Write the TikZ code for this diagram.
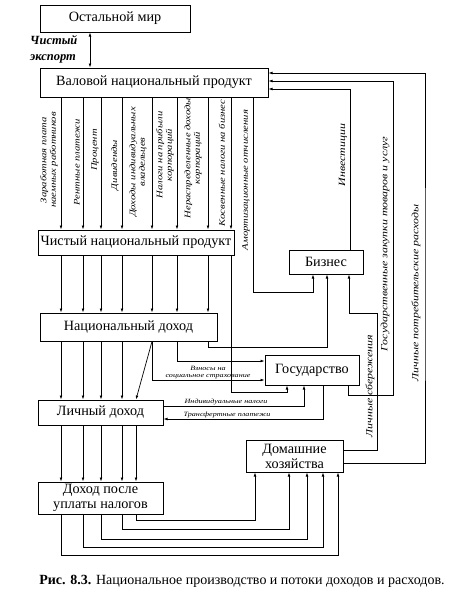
\documentclass[tikz,border=0pt]{standalone}
\usepackage{fontspec}
\setmainfont{Liberation Serif}
\newfontfamily\labfont[FakeStretch=1.25]{Liberation Serif}
\usetikzlibrary{arrows.meta, positioning, calc}
\tikzset{
  box/.style={draw, line width=1pt, inner sep=0pt, align=center, font=\fontsize{14.2}{15}\selectfont},
  flow/.style={line width=0.7pt, -{Latex[length=4pt,width=2.8pt]}},
  twoway/.style={line width=0.7pt, {Latex[length=4pt,width=2.8pt]}-{Latex[length=4pt,width=2.8pt]}},
  vlab/.style={rotate=90, inner sep=0pt, align=center, font=\labfont\itshape\fontsize{8.5}{9.5}\selectfont},
  vlabr/.style={rotate=90, inner sep=0pt, align=center, font=\labfont\itshape\fontsize{9.5}{10}\selectfont},
  hlab/.style={inner sep=0.5pt, align=center, font=\labfont\itshape\fontsize{6.5}{7.5}\selectfont}
}

\begin{document}
\begin{tikzpicture}[x=1pt, y=-1pt]
\useasboundingbox (0,0) rectangle (451,600);

\node[box, minimum width=150pt, minimum height=27pt] (world) at (115,18.5) {Остальной мир};
\node[box, minimum width=228pt, minimum height=29pt] (gnp) at (154,82.5) {Валовой национальный продукт};
\node[box, minimum width=196pt, minimum height=25pt] (nnp) at (136,242.5) {Чистый национальный продукт};
\node[box, minimum width=177pt, minimum height=28pt] (ni) at (128.5,327) {Национальный доход};
\node[box, minimum width=125pt, minimum height=25pt] (pi) at (100.5,412.5) {Личный доход};
\node[box, minimum width=125pt, minimum height=32pt] (dpi) at (100.5,498) {Доход после\\уплаты налогов};
\node[box, minimum width=74pt, minimum height=24pt] (biz) at (326,262) {Бизнес};
\node[box, minimum width=94pt, minimum height=30pt] (gov) at (312,370) {Государство};
\node[box, minimum width=97pt, minimum height=32pt] (hh) at (294.5,456) {Домашние\\хозяйства};

\foreach \n/\x in {0/90, 1/61, 2/83, 3/101, 4/122, 5/152, 6/177, 7/208, 8/231, 9/253, 10/136}
  \coordinate (k\n) at (\x,0);

\draw[twoway] (world.south -| k0) -- (gnp.north -| k0);
\node[anchor=west, align=left, inner sep=0pt, font=\bfseries\itshape\fontsize{12.5}{16}\selectfont] (export) at (30,49) {Чистый\\экспорт};

\foreach \n in {1,...,8}
  \draw[flow] (gnp.south -| k\n) -- (nnp.north -| k\n);
\foreach \n in {1,...,7}
  \draw[flow] (nnp.south -| k\n) -- (ni.north -| k\n);
\foreach \n in {1,...,4}
  \draw[flow] (ni.south -| k\n) -- (pi.north -| k\n);
\draw[flow] (ni.south -| k5) -- (pi.north -| k10);
\foreach \n in {1,2,3,4,10}
  \draw[flow] (pi.south -| k\n) -- (dpi.north -| k\n);

\node[vlab] (wages) at (49,160) {Заработная плата\\наемных работников};
\node[vlab] (rent) at (77,162) {Рентные платежи};
\node[vlab] (interest) at (95,150) {Процент};
\node[vlab] (dividends) at (115,165) {Дивиденды};
\node[vlab] (proprietors) at (138,162) {Доходы индивидуальных\\владельцев};
\node[vlab] (corptax) at (165,155) {Налоги на прибыли\\корпораций};
\node[vlab] (retained) at (193,158) {Нераспределенные доходы\\корпораций};
\node[vlab] (indirect) at (222,163) {Косвенные налоги на бизнес};
\node[vlab] (deprec) at (246,180) {Амортизационные отчисления};

\draw[flow] (gnp.south -| k9) |- ([xshift=-13pt, yshift=-18pt]biz.south) -- ([xshift=-13pt]biz.south);
\draw[flow] (nnp.south -| k8) |- ([xshift=-25pt, yshift=-7pt]gov.south) -- ([xshift=-25pt]gov.south);
\draw[flow] (ni.south -| k7) |- ([xshift=1pt, yshift=-73pt]biz.south) -- ([xshift=1pt]biz.south);
\draw[flow] (ni.south -| k6) |- ([yshift=9pt]gov.west);
\draw[flow] (ni.south -| k5) |- ([yshift=-10pt]gov.west);
\node[hlab, anchor=south] (social) at (208,380) {Взносы на\\социальное страхование};

\draw[flow] ([yshift=6.5pt]pi.east) -| ([xshift=-8pt]gov.south);
\draw[flow] ([xshift=11pt]gov.south) |- ([yshift=-6.5pt]pi.east);
\node[hlab, anchor=south] (perstax) at (226,405.5) {Индивидуальные налоги};
\node[hlab, anchor=south] (transfer) at (227,418.5) {Трансфертные платежи};

\foreach \n/\d/\s in {10/6/-39.5, 4/15/-5.5, 3/25/12.5, 2/33/28.5, 1/41/43.5}
  \draw[flow] (dpi.south -| k\n) -- ++(0,\d) -| ([xshift=\s pt]hh.south);

\draw[flow] ([yshift=6pt]hh.east) -| (377,313) -| ([xshift=23pt]biz.south);
\draw[flow] ([yshift=-7pt]hh.east) -| (425,300) |- ([yshift=9.5pt]gnp.east);
\draw[flow] ([xshift=36pt]gov.south) |- (393,395) |- ([yshift=1.5pt]gnp.east);
\draw[flow] ([xshift=24pt]biz.north) |- ([yshift=-6.5pt]gnp.east);

\node[vlabr] (invest) at (343,155) {Инвестиции};
\node[vlabr] (govbuy) at (385,244) {Государственные закупки товаров и услуг};
\node[vlabr] (consume) at (416,293) {Личные потребительские расходы};
\node[vlabr] (saving) at (370,386) {Личные сбережения};

\node[anchor=base, inner sep=0pt, font=\fontsize{14}{16}\selectfont] (caption) at (242,584) {\textbf{Рис. 8.3.} Национальное производство и потоки доходов и расходов.};
\end{tikzpicture}
\end{document}
